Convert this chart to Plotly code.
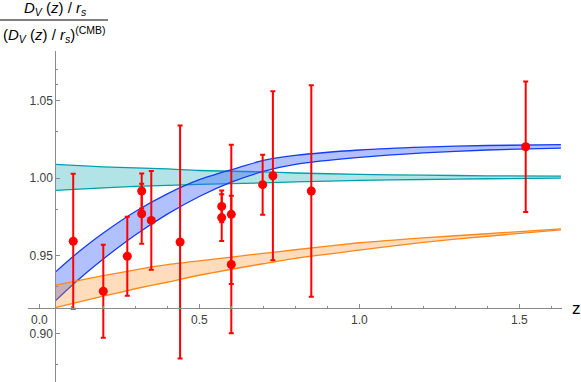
import plotly.graph_objects as go

# ---------------- data ----------------
# redshift grid for the theory bands
z_blue = [0.05, 0.1, 0.15, 0.2, 0.3, 0.4, 0.5, 0.6, 0.7, 0.8, 1.0, 1.2, 1.4, 1.63]
blue_upper = [0.9395, 0.9486, 0.9570, 0.9647, 0.9785, 0.9899, 0.9990, 1.0054,
              1.0114, 1.0146, 1.0181, 1.0200, 1.0210, 1.0215]
blue_lower = [0.9210, 0.9306, 0.9396, 0.9480, 0.9634, 0.9768, 0.9882, 0.9974,
              1.0043, 1.0088, 1.0133, 1.0162, 1.0181, 1.0193]

z_band = [0.05, 0.2, 0.3, 0.4, 0.5, 0.7, 0.8, 1.0, 1.2, 1.4, 1.63]
cyan_upper = [1.0088, 1.0072, 1.0066, 1.0059, 1.0049, 1.0040, 1.0033, 1.0024, 1.0019, 1.0015, 1.0013]
cyan_lower = [0.9921, 0.9937, 0.9947, 0.9953, 0.9960, 0.9969, 0.9976, 0.9985, 0.9991, 0.9996, 1.0000]
orange_upper = [0.9311, 0.9372, 0.9410, 0.9443, 0.9468, 0.9516, 0.9539, 0.9584, 0.9616, 0.9642, 0.9674]
orange_lower = [0.9166, 0.9240, 0.9288, 0.9330, 0.9375, 0.9449, 0.9484, 0.9536, 0.9587, 0.9626, 0.9667]

# BAO measurements
z_data = [0.106, 0.2, 0.275, 0.32, 0.32, 0.35, 0.44, 0.57, 0.57, 0.6, 0.6, 0.698, 0.73, 0.85, 1.52]
val_data = [0.9594, 0.9272, 0.9497, 0.9917, 0.9771, 0.9728, 0.9589, 0.9818, 0.9746,
            0.9767, 0.9444, 0.9958, 1.0015, 0.9917, 1.0202]
err_data = [0.0434, 0.0300, 0.0254, 0.0113, 0.0193, 0.0318, 0.0750, 0.0102, 0.0150,
            0.0448, 0.0443, 0.0193, 0.0544, 0.0680, 0.0420]

x_ticks = [0.0, 0.5, 1.0, 1.5]
x_tick_labels = ["0.0", "0.5", "1.0", "1.5"]
x_minor = [0.1, 0.2, 0.3, 0.4, 0.6, 0.7, 0.8, 0.9, 1.1, 1.2, 1.3, 1.4, 1.6]
y_ticks = [0.90, 0.95, 1.00, 1.05]
y_tick_labels = ["0.90", "0.95", "1.00", "1.05"]
y_minor = [0.88, 0.93, 0.98, 1.03, 1.06, 1.07]

# ---------------- figure ----------------
W, H = 581, 382
fig = go.Figure()

def band(z, lo, hi, line_col, fill_col):
    fig.add_trace(go.Scatter(x=z, y=lo, mode="lines", line=dict(color=line_col, width=1.3, shape="spline", smoothing=0.6),
                             hoverinfo="skip", showlegend=False))
    fig.add_trace(go.Scatter(x=z, y=hi, mode="lines", line=dict(color=line_col, width=1.3, shape="spline", smoothing=0.6),
                             fill="tonexty", fillcolor=fill_col, hoverinfo="skip", showlegend=False))

band(z_band, cyan_lower, cyan_upper, "rgb(0,160,170)", "rgba(0,165,175,0.30)")
band(z_blue, blue_lower, blue_upper, "rgb(20,60,245)", "rgba(60,100,255,0.40)")
band(z_band, orange_lower, orange_upper, "rgb(255,135,25)", "rgba(255,140,30,0.30)")

fig.add_trace(go.Scatter(
    x=z_data, y=val_data, mode="markers",
    marker=dict(color="#ff0000", size=9),
    error_y=dict(type="data", array=err_data, visible=True, color="#ff0000", thickness=2, width=2.5),
    showlegend=False))

axis_col = "#8a8a8a"
tick_font = dict(family="Liberation Sans, Arial, sans-serif", size=12, color="#404040")

fig.update_layout(
    width=W, height=H,
    margin=dict(l=0, r=0, t=0, b=0, autoexpand=False),
    paper_bgcolor="white", plot_bgcolor="white",
    xaxis=dict(domain=[28 / W, 562 / W], range=[-0.0353, 1.6334], anchor="free",
               position=(H - 308.3) / H, showgrid=False, zeroline=False,
               showline=True, linecolor=axis_col, linewidth=1,
               tickmode="array", tickvals=x_ticks, ticktext=x_tick_labels,
               ticks="inside", ticklen=4, tickcolor=axis_col, tickfont=tick_font,
               minor=dict(tickmode="array", tickvals=x_minor, ticks="inside", ticklen=2, tickcolor=axis_col)),
    yaxis=dict(domain=[0, (H - 50.7) / H], range=[0.8688, 1.0820], anchor="free",
               position=55.3 / W, showgrid=False, zeroline=False,
               showline=True, linecolor=axis_col, linewidth=1,
               tickmode="array", tickvals=y_ticks, ticktext=y_tick_labels,
               ticks="inside", ticklen=4, tickcolor=axis_col, tickfont=tick_font,
               minor=dict(tickmode="array", tickvals=y_minor, ticks="inside", ticklen=2, tickcolor=axis_col)),
)

lab_font = dict(family="Liberation Sans, Arial, sans-serif", size=15, color="black")
fig.add_annotation(xref="paper", yref="paper", x=55 / W, y=(H - 9) / H, xanchor="center", yanchor="middle",
                   text="<i>D</i><sub><i>V</i></sub> (<i>z</i>) / <i>r</i><sub><i>s</i></sub>",
                   showarrow=False, font=lab_font)
fig.add_annotation(xref="paper", yref="paper", x=54 / W, y=(H - 34) / H, xanchor="center", yanchor="middle",
                   text="(<i>D</i><sub><i>V</i></sub> (<i>z</i>) / <i>r</i><sub><i>s</i></sub>)<sup>(CMB)</sup>",
                   showarrow=False, font=lab_font)
fig.add_shape(type="line", xref="paper", yref="paper", x0=0, x1=108 / W, y0=(H - 20) / H, y1=(H - 20) / H,
              line=dict(color="black", width=1))
fig.add_annotation(xref="paper", yref="paper", x=576 / W, y=(H - 308) / H, xanchor="center", yanchor="middle",
                   text="z", showarrow=False, font=dict(family="Liberation Sans, Arial, sans-serif", size=17, color="black"))

fig.write_html("out.html", config={"displayModeBar": False},
               post_script="document.body.style.margin='0';document.body.style.padding='0';")
